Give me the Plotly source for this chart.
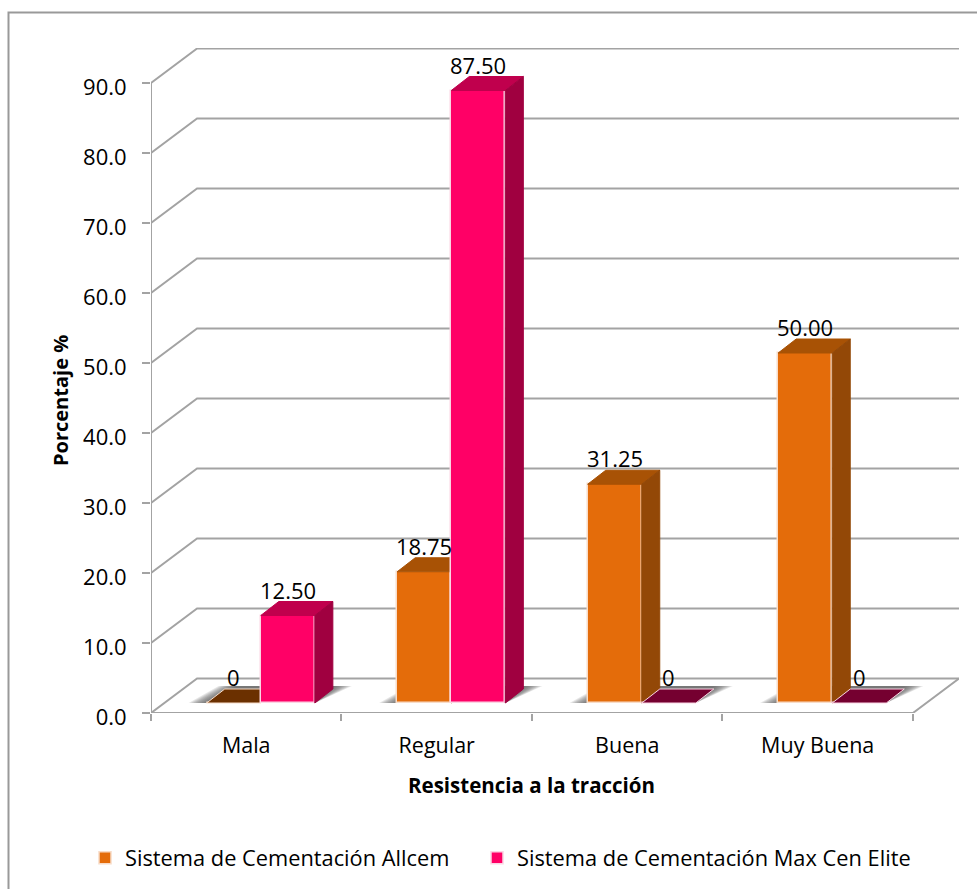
import plotly.graph_objects as go

# Chart data
categories = ["Mala", "Regular", "Buena", "Muy Buena"]
allcem = [0, 18.75, 31.25, 50.00]
max_cen = [12.50, 87.50, 0, 0]
allcem_labels = ["0", "18.75", "31.25", "50.00"]
max_cen_labels = ["12.50", "87.50", "0", "0"]
y_ticks = [0, 10, 20, 30, 40, 50, 60, 70, 80, 90]
series_names = ["Sistema de Cementación Allcem", "Sistema de Cementación Max Cen Elite"]

FONT = "Open Sans"
GRID = "#a3a3a3"

# Oblique projection: pixel size of one data unit and the depth of the box
UX, UY = 190.25, 7.0
WALL_X, WALL_Y = 46 / UX, 34.5 / UY
DEPTH_X, DEPTH_Y = 18 / UX, 14 / UY
LIFT_X, LIFT_Y = 14.5 / UX, 10 / UY
BAR_W = 54 / UX

fig = go.Figure()


def poly(xs, ys, color, axes="", line=None, **kw):
    fig.add_trace(go.Scatter(
        x=xs, y=ys, mode="lines", fill="toself", fillcolor=color,
        line=dict(color=line or color, width=1), hoverinfo="skip",
        showlegend=False, cliponaxis=False,
        xaxis="x" + axes, yaxis="y" + axes, **kw))


def rule(xs, ys):
    fig.add_trace(go.Scatter(
        x=xs, y=ys, mode="lines", line=dict(color=GRID, width=2),
        hoverinfo="skip", showlegend=False, cliponaxis=False))


# Soft floor shadows: nested translucent parallelograms build up a blurred edge
LAYERS = 10
for i in range(len(categories)):
    c = i + 0.5 + LIFT_X
    base = LIFT_Y
    top = LIFT_Y + 17 / UY
    for j in range(LAYERS):
        inset = 2 * j / UX
        left = c - BAR_W - 18 / UX + inset
        fig.add_trace(go.Scatter(
            x=[left, c + BAR_W, c + BAR_W + 37 / UX - inset, left + 30 / UX, left],
            y=[base, base, top, top, base],
            mode="lines", line=dict(width=0), fill="toself",
            fillcolor="rgba(85,85,85,0.15)",
            hoverinfo="skip", showlegend=False))

# Back wall, side wall and floor rules
for v in y_ticks:
    rule([0, WALL_X, len(categories) + WALL_X], [v, v + WALL_Y, v + WALL_Y])
rule([0, 0], [0, y_ticks[-1]])
rule([0, len(categories), len(categories) + WALL_X], [0, 0, WALL_Y])


def series(values, name, front, top, side, flat, edge, axes, x_off, legend):
    xs = [i + 0.5 + LIFT_X + x_off for i in range(len(values))]
    fig.add_trace(go.Bar(
        x=xs, y=values, base=[LIFT_Y] * len(values), width=BAR_W, name=name,
        marker=dict(color=front, line=dict(color=edge, width=1.5)),
        hoverinfo="skip", xaxis="x" + axes, yaxis="y" + axes, legend=legend))
    for x, v in zip(xs, values):
        xl, xr = x - BAR_W / 2, x + BAR_W / 2
        y = LIFT_Y + v
        poly([xl, xr, xr + DEPTH_X, xl + DEPTH_X, xl], [y, y, y + DEPTH_Y, y + DEPTH_Y, y],
             top if v > 0 else flat, axes, line=edge if v == 0 else top)
        if v > 0:
            poly([xr, xr + DEPTH_X, xr + DEPTH_X, xr, xr],
                 [LIFT_Y, LIFT_Y + DEPTH_Y, y + DEPTH_Y, y, LIFT_Y], side, axes)
    return xs


x_a = series(allcem, series_names[0], "#e46c0a", "#a85205", "#934807", "#6b3000", "#f8dcc8", "2", -BAR_W / 2, "legend")
x_m = series(max_cen, series_names[1], "#ff0066", "#c0004d", "#a00040", "#750030", "#fbd5e4", "3", BAR_W / 2, "legend2")

# Value labels above each bar
annotations = []
for xs, vals, labels in ((x_a, allcem, allcem_labels), (x_m, max_cen, max_cen_labels)):
    for x, v, t in zip(xs, vals, labels):
        annotations.append(dict(
            x=x, y=v + LIFT_Y, xref="x", yref="y", text=t, showarrow=False,
            yshift=26, yanchor="middle", font=dict(family=FONT, size=22, color="#000")))

# Axis titles
annotations.append(dict(
    x=(531 - 151) / 808, y=(713 - 785) / 665, xref="paper", yref="paper",
    xanchor="center", yanchor="middle",
    text="<b>Resistencia a la tracción</b>", showarrow=False,
    font=dict(family=FONT, size=20.5, color="#000")))
annotations.append(dict(
    x=(61 - 151) / 808, y=(713 - 401) / 665, xref="paper", yref="paper",
    xanchor="center", yanchor="middle",
    text="<b>Porcentaje %</b>", textangle=-90, showarrow=False,
    font=dict(family=FONT, size=20, color="#000")))

x_max = len(categories) + WALL_X
y_max = y_ticks[-1] + 5
hidden = dict(visible=False, fixedrange=True)


def legend_at(px):
    return dict(
        orientation="h", xref="container", yref="container",
        x=px / 977, y=(889 - 858) / 889, xanchor="left", yanchor="middle",
        itemwidth=30, font=dict(family=FONT, size=21.8, color="#000"),
        bgcolor="rgba(0,0,0,0)")


fig.update_layout(
    width=977, height=889, autosize=False,
    margin=dict(l=151, r=18, t=48, b=176),
    paper_bgcolor="white", plot_bgcolor="white",
    barmode="overlay", bargap=0,
    xaxis=dict(
        range=[0, x_max], tickmode="array",
        tickvals=[i + 0.5 for i in range(len(categories))], ticktext=categories,
        ticks="", showgrid=False, zeroline=False, showline=False,
        ticklabelstandoff=17, tickfont=dict(family=FONT, size=21.5, color="#000"),
        minor=dict(tickmode="array", tickvals=list(range(len(categories) + 1)),
                   ticks="outside", ticklen=7, tickwidth=2, tickcolor=GRID, showgrid=False),
    ),
    yaxis=dict(
        range=[0, y_max], tickmode="array", tickvals=y_ticks,
        ticktext=[f"{v:.1f}" for v in y_ticks],
        ticks="outside", ticklen=8, tickwidth=2, tickcolor=GRID,
        showgrid=False, zeroline=False, showline=False, ticklabelstandoff=11,
        ticklabelshift=4, tickfont=dict(family=FONT, size=22, color="#000"),
    ),
    xaxis2=dict(range=[0, x_max], overlaying="x", **hidden),
    yaxis2=dict(range=[0, y_max], overlaying="y", **hidden),
    xaxis3=dict(range=[0, x_max], overlaying="x", **hidden),
    yaxis3=dict(range=[0, y_max], overlaying="y", **hidden),
    annotations=annotations,
    legend=legend_at(85),
    legend2=legend_at(477),
    shapes=[dict(
        type="path", xref="paper", yref="paper", layer="below",
        path=f"M {(8.5 - 151) / 808} {(713 - 889) / 665} L {(8.5 - 151) / 808} {(713 - 12.5) / 665} "
             f"L {(977 - 151) / 808} {(713 - 12.5) / 665}",
        line=dict(color="#999999", width=2))],
)

fig.write_html("out.html")
